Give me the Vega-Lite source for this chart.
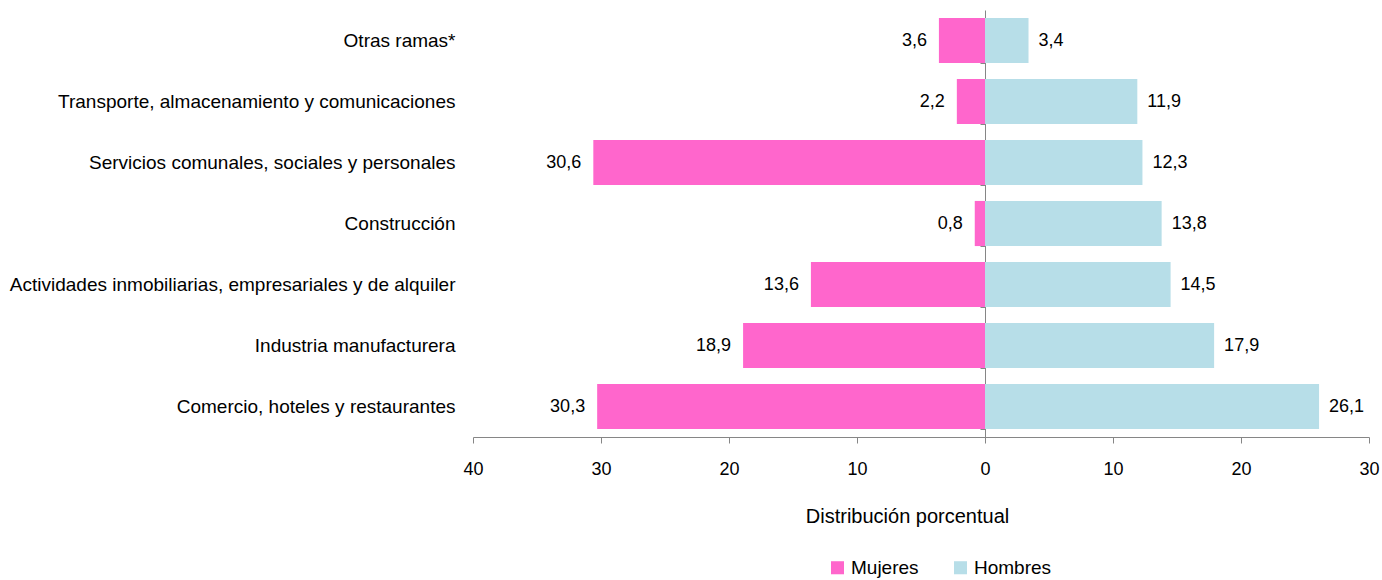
{
  "$schema": "https://vega.github.io/schema/vega-lite/v6.json",
  "autosize": {"type": "none"},
  "width": 896,
  "height": 427,
  "padding": {"left": 473, "top": 10, "right": 13, "bottom": 143},
  "background": "white",
  "config": {"view": {"stroke": null}, "font": "Liberation Sans"},
  "data": {"values": [
    {"rama": "Otras ramas*", "sexo": "Mujeres", "valor": -3.6, "etiqueta": "3,6"},
    {"rama": "Otras ramas*", "sexo": "Hombres", "valor": 3.4, "etiqueta": "3,4"},
    {"rama": "Transporte, almacenamiento y comunicaciones", "sexo": "Mujeres", "valor": -2.2, "etiqueta": "2,2"},
    {"rama": "Transporte, almacenamiento y comunicaciones", "sexo": "Hombres", "valor": 11.9, "etiqueta": "11,9"},
    {"rama": "Servicios comunales, sociales y personales", "sexo": "Mujeres", "valor": -30.6, "etiqueta": "30,6"},
    {"rama": "Servicios comunales, sociales y personales", "sexo": "Hombres", "valor": 12.3, "etiqueta": "12,3"},
    {"rama": "Construcción", "sexo": "Mujeres", "valor": -0.8, "etiqueta": "0,8"},
    {"rama": "Construcción", "sexo": "Hombres", "valor": 13.8, "etiqueta": "13,8"},
    {"rama": "Actividades inmobiliarias, empresariales y de alquiler", "sexo": "Mujeres", "valor": -13.6, "etiqueta": "13,6"},
    {"rama": "Actividades inmobiliarias, empresariales y de alquiler", "sexo": "Hombres", "valor": 14.5, "etiqueta": "14,5"},
    {"rama": "Industria manufacturera", "sexo": "Mujeres", "valor": -18.9, "etiqueta": "18,9"},
    {"rama": "Industria manufacturera", "sexo": "Hombres", "valor": 17.9, "etiqueta": "17,9"},
    {"rama": "Comercio, hoteles y restaurantes", "sexo": "Mujeres", "valor": -30.3, "etiqueta": "30,3"},
    {"rama": "Comercio, hoteles y restaurantes", "sexo": "Hombres", "valor": 26.1, "etiqueta": "26,1"}
  ]},
  "layer": [
    {
      "mark": {"type": "bar"},
      "encoding": {
        "x": {"field": "valor", "type": "quantitative",
          "scale": {"domain": [-40, 30], "nice": false, "zero": true},
          "axis": {"values": [-40, -30, -20, -10, 0, 10, 20, 30], "labelExpr": "abs(datum.value)",
            "grid": false, "domainColor": "#868686", "tickColor": "#868686", "tickSize": 6,
            "labelFlush": false, "labelOverlap": false,
            "labelFontSize": 18, "labelColor": "#000000", "labelPadding": 17,
            "title": "Distribución porcentual", "titleFontSize": 20, "titleFontWeight": "normal",
            "titleColor": "#000000", "titlePadding": 28, "titleX": 434}},
        "y": {"field": "rama", "type": "nominal", "sort": null,
          "scale": {"paddingInner": 0.26, "paddingOuter": 0.13},
          "axis": {"title": null, "domain": false, "ticks": false, "labelFontSize": 19,
            "labelColor": "#000000", "labelPadding": 18, "labelLimit": 600}},
        "color": {"field": "sexo", "type": "nominal",
          "scale": {"domain": ["Mujeres", "Hombres"], "range": ["#FF66CC", "#B7DEE8"]},
          "legend": {"title": null, "orient": "none", "direction": "horizontal",
            "legendX": 355, "legendY": 548, "symbolType": "square", "symbolSize": 170,
            "labelFontSize": 19, "labelColor": "#000000", "columnPadding": 32, "symbolStrokeWidth": 0}}
      }
    },
    {
      "mark": {"type": "rule", "color": "#868686", "strokeWidth": 1},
      "encoding": {
        "x": {"datum": 0, "type": "quantitative"},
        "y": {"field": "rama", "type": "nominal", "sort": null,
          "axis": {"orient": "right", "offset": -384, "labels": false, "title": null,
            "domain": true, "domainColor": "#868686", "ticks": true, "tickBand": "extent", "tickSize": -5, "tickColor": "#868686"}}
      }
    },
    {
      "transform": [{"filter": "datum.sexo == 'Mujeres'"}],
      "mark": {"type": "text", "align": "right", "dx": -12, "fontSize": 18, "color": "#000000"},
      "encoding": {
        "x": {"field": "valor", "type": "quantitative"},
        "y": {"field": "rama", "type": "nominal", "sort": null, "axis": null},
        "text": {"field": "etiqueta"}
      }
    },
    {
      "transform": [{"filter": "datum.sexo == 'Hombres'"}],
      "mark": {"type": "text", "align": "left", "dx": 10, "fontSize": 18, "color": "#000000"},
      "encoding": {
        "x": {"field": "valor", "type": "quantitative"},
        "y": {"field": "rama", "type": "nominal", "sort": null, "axis": null},
        "text": {"field": "etiqueta"}
      }
    }
  ],
  "resolve": {"axis": {"y": "independent"}}
}
